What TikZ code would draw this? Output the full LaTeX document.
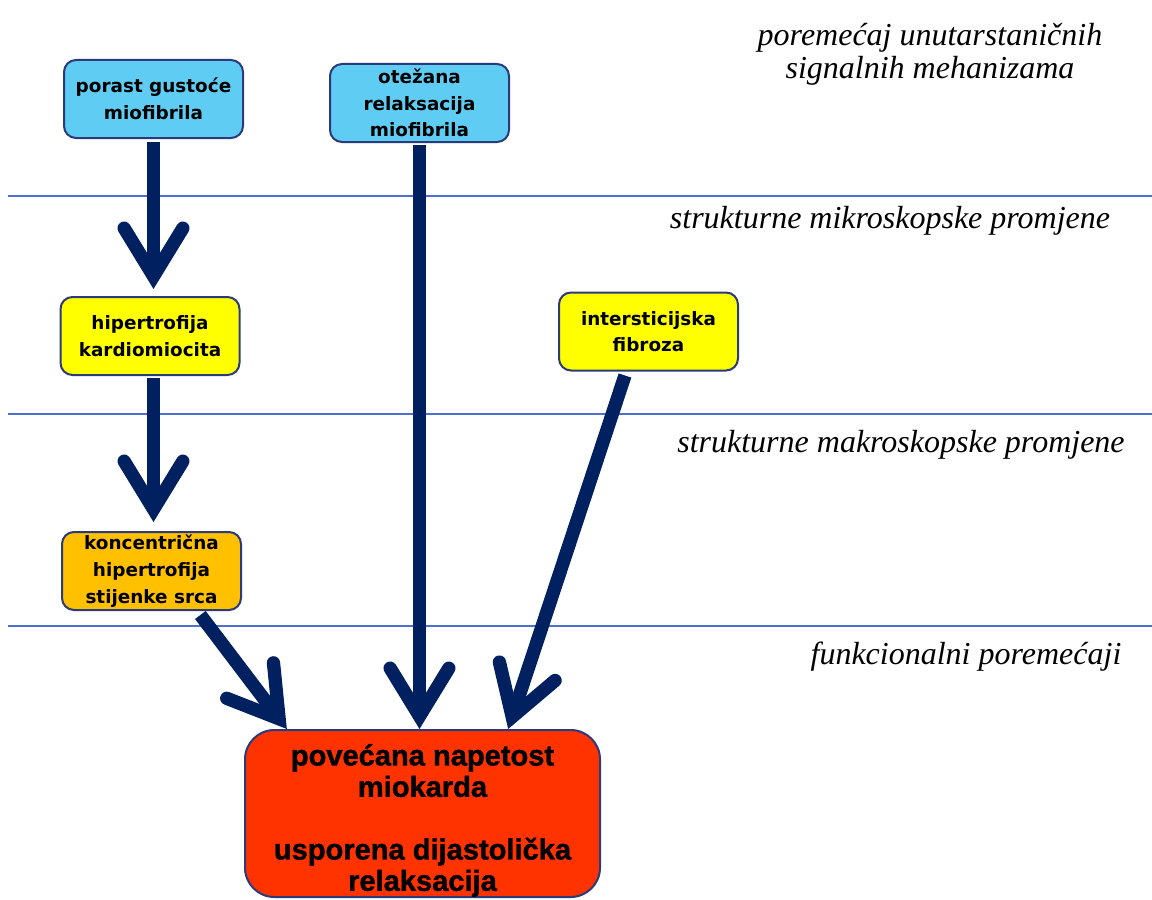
\documentclass[tikz,border=0pt]{standalone}
\usepackage{fontspec}
\setmainfont{Liberation Serif}
\newfontfamily\boxfont{DejaVu Sans}
\newfontfamily\bigfont{Liberation Sans}[BoldFeatures={FakeBold=1.2}]
\usetikzlibrary{arrows.meta,calc}
\definecolor{arrowblue}{HTML}{002060}
\definecolor{borderblue}{HTML}{2B3A7A}
\definecolor{lineblue}{HTML}{4F6FD3}
\definecolor{cyanfill}{HTML}{5ECCF3}
\definecolor{yellowfill}{HTML}{FFFF00}
\definecolor{orangefill}{HTML}{FFC000}
\definecolor{redfill}{HTML}{FF3300}
\tikzset{
  smallbox/.style={draw=borderblue, line width=1.5pt, rounded corners=9pt,
    minimum width=134.25pt, minimum height=58.5pt, inner sep=0pt,
    align=center, font=\boxfont\bfseries\fontsize{13.8pt}{20pt}\selectfont},
  bigbox/.style={draw=borderblue, line width=1.5pt, rounded corners=22pt, fill=redfill,
    minimum width=266.25pt, minimum height=125.25pt, inner sep=0pt,
    font=\bigfont\bfseries\fontsize{21.8pt}{23.5pt}\selectfont},
  levellabel/.style={align=center, font=\itshape\fontsize{24pt}{25pt}\selectfont, inner sep=0pt},
  sepline/.style={draw=lineblue, line width=2.2pt},
  bigarrow/.style={draw=arrowblue, line width=10pt,
    -{Straight Barb[length=36pt,width=44pt,line cap=round,line join=miter]}}
}
\begin{document}
\begin{tikzpicture}[x=0.75pt,y=-0.75pt]
\useasboundingbox (0,0) rectangle (1152,899);
% level separators
\draw[sepline] (8,196) -- (1152,196);
\draw[sepline] (8,414) -- (1152,414);
\draw[sepline] (8,626) -- (1152,626);
% level labels
\node[levellabel] (l1) at (930,54) {poremećaj unutarstaničnih\\signalnih mehanizama};
\node[levellabel] (l2) at (890,221) {strukturne mikroskopske promjene};
\node[levellabel] (l3) at (901,445) {strukturne makroskopske promjene};
\node[levellabel] (l4) at (966,657) {funkcionalni poremećaji};
% boxes
\node[smallbox, fill=cyanfill] (b1) at (153.5,99) {porast gustoće\\miofibrila};
\node[smallbox, fill=cyanfill] (b2) at (419.5,103) {otežana\\relaksacija\\miofibrila};
\node[smallbox, fill=yellowfill] (b3) at (150,336) {hipertrofija\\kardiomiocita};
\node[smallbox, fill=yellowfill] (b4) at (648.5,331.5) {intersticijska\\fibroza};
\node[smallbox, fill=orangefill] (b5) at (151.5,571) {koncentrična\\hipertrofija\\stijenke srca};
\node[bigbox] (big) at (422.5,813.5) {\parbox{266pt}{\centering\vspace*{10.5pt}povećana napetost\\miokarda\\[23.5pt]usporena dijastolička\\relaksacija}};
% anchor points for connectors
\coordinate (s1) at ($(b1.south)+(0,3)$);
\coordinate (e1) at ($(s1 |- b3.north)+(0,-7)$);
\coordinate (s2) at ($(s1 |- b3.south)+(0,2)$);
\coordinate (e2) at ($(s1 |- b5.north)+(0,-9)$);
\coordinate (s3) at ($(b2.south)+(0,2)$);
\coordinate (e3) at (s3 |- big.north);
\coordinate (s4) at ($($(b5.south west)!0.77!(b5.south east)$)+(0,4)$);
\coordinate (e4) at ($(big.north west)!0.12!(big.north east)$);
\coordinate (s5) at ($($(b4.south west)!0.37!(b4.south east)$)+(0,4)$);
\coordinate (e5) at ($(big.north west)!0.74!(big.north east)$);
% connectors
\draw[bigarrow] (s1) -- (e1);
\draw[bigarrow] (s2) -- (e2);
\draw[bigarrow] (s3) -- (e3);
\draw[bigarrow] (s4) -- (e4);
\draw[bigarrow] (s5) -- (e5);
\end{tikzpicture}
\end{document}
